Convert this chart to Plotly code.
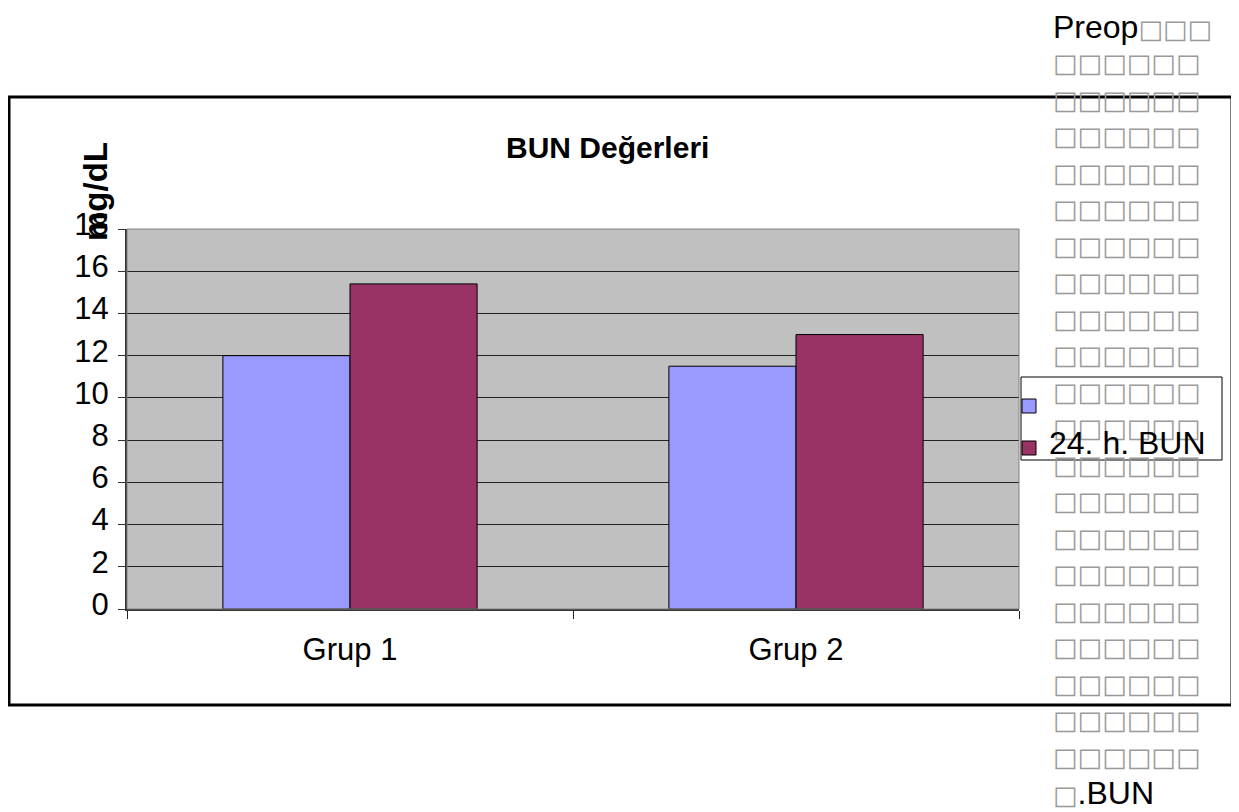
import plotly.graph_objects as go

# ---- data ----
categories = ["Grup 1", "Grup 2"]
preop_bun = [12.0, 11.5]
h24_bun = [15.4, 13.0]
series_names = ["Preop.BUN", "24. h. BUN"]
y_ticks = [0, 2, 4, 6, 8, 10, 12, 14, 16, 18]
title_text = "BUN Değerleri"
y_title = "mg/dL"

# garbled legend label of first series (unrenderable chars shown as boxes)
TOFU = "□"
label_lines = ["Preop" + TOFU * 3] + [TOFU * 6] * 20 + [TOFU + ".BUN"]

FONT = "Arial, 'Liberation Sans', sans-serif"
BLUE = "#9999FF"
RED = "#993366"

# page has an 8px body margin, so the figure is drawn 8px smaller/offset
OFF = 8
W, H = 1239 - OFF, 812 - OFF
# plot area in page pixels
L, R, T, B = 127, 1019, 229, 609


def px(x):
    return (x - L) / (R - L)


def py(y):
    return (B - y) / (B - T)


fig = go.Figure()
fig.add_trace(go.Bar(x=categories, y=preop_bun, name=series_names[0],
                     marker=dict(color=BLUE, line=dict(color="black", width=1))))
fig.add_trace(go.Bar(x=categories, y=h24_bun, name=series_names[1],
                     marker=dict(color=RED, line=dict(color="black", width=1))))

fig.update_layout(
    width=W, height=H, autosize=False,
    margin=dict(l=L - OFF, r=W - (R - OFF), t=T - OFF, b=H - (B - OFF), pad=0),
    paper_bgcolor="white", plot_bgcolor="#C0C0C0",
    barmode="group", bargap=0.43, bargroupgap=0,
    showlegend=False,
    font=dict(family=FONT, size=31, color="black"),
)
fig.update_yaxes(range=[0, 18], tickvals=y_ticks, ticks="outside", ticklen=7,
                 tickcolor="#333", showgrid=True, gridcolor="#222", gridwidth=1,
                 showline=True, linecolor="#333", linewidth=2, zeroline=False,
                 ticklabelstandoff=3, ticklabelshift=-5,
                 tickfont=dict(size=31, family=FONT))
fig.update_xaxes(ticks="outside", tickson="boundaries", ticklen=8, tickcolor="#222",
                 showline=True, linecolor="#333", linewidth=2,
                 ticklabelstandoff=12, tickfont=dict(size=31, family=FONT))

shapes = []
# plot area border (top/right gray)
shapes.append(dict(type="rect", xref="paper", yref="paper", x0=0, x1=1, y0=0, y1=1,
                   line=dict(color="#808080", width=1), fillcolor="rgba(0,0,0,0)", layer="above"))
# outer chart frame
shapes.append(dict(type="rect", xref="paper", yref="paper",
                   x0=px(9), x1=px(1232), y0=py(705), y1=py(97),
                   line=dict(color="black", width=3), fillcolor="rgba(0,0,0,0)"))
# legend box
shapes.append(dict(type="rect", xref="paper", yref="paper",
                   x0=px(1021), x1=px(1222), y0=py(460), y1=py(377),
                   line=dict(color="black", width=1), fillcolor="white"))
# legend markers
shapes.append(dict(type="rect", xref="paper", yref="paper",
                   x0=px(1022), x1=px(1036), y0=py(413), y1=py(399),
                   line=dict(color="black", width=1), fillcolor=BLUE))
shapes.append(dict(type="rect", xref="paper", yref="paper",
                   x0=px(1022), x1=px(1036), y0=py(455), y1=py(441),
                   line=dict(color="black", width=1), fillcolor=RED))
fig.update_layout(shapes=shapes)


def colorize(line):
    out = ""
    for ch in line:
        if ch == TOFU:
            out += ("<span style=\"color:#9a9a9a;font-family:'DejaVu Sans';"
                    "font-size:26px\">" + ch + "</span>")
        else:
            out += ch
    return out


annotations = [
    dict(text="<b>" + title_text + "</b>", xref="paper", yref="paper",
         x=px(607), y=py(148), xanchor="center", yanchor="middle", showarrow=False,
         font=dict(size=30, family=FONT)),
    dict(text="<b>" + y_title + "</b>", xref="paper", yref="paper",
         x=px(95), y=py(192), xanchor="center", yanchor="middle", showarrow=False,
         textangle=-90, font=dict(size=33, family=FONT)),
]
# first-series label lines, one per annotation (line pitch of the original)
first_y, last_y = 27, 793
pitch = (last_y - first_y) / (len(label_lines) - 1)
for i, line in enumerate(label_lines):
    annotations.append(dict(text=colorize(line), xref="paper", yref="paper",
                            x=px(1051), y=py(first_y + i * pitch),
                            xanchor="left", yanchor="middle", align="left",
                            showarrow=False, font=dict(size=32, family=FONT)))
annotations.append(dict(text=series_names[1], xref="paper", yref="paper",
                        x=px(1047), y=py(443), xanchor="left", yanchor="middle",
                        align="left", showarrow=False, font=dict(size=32, family=FONT)))
fig.update_layout(annotations=annotations)

fig.write_html("out.html")
